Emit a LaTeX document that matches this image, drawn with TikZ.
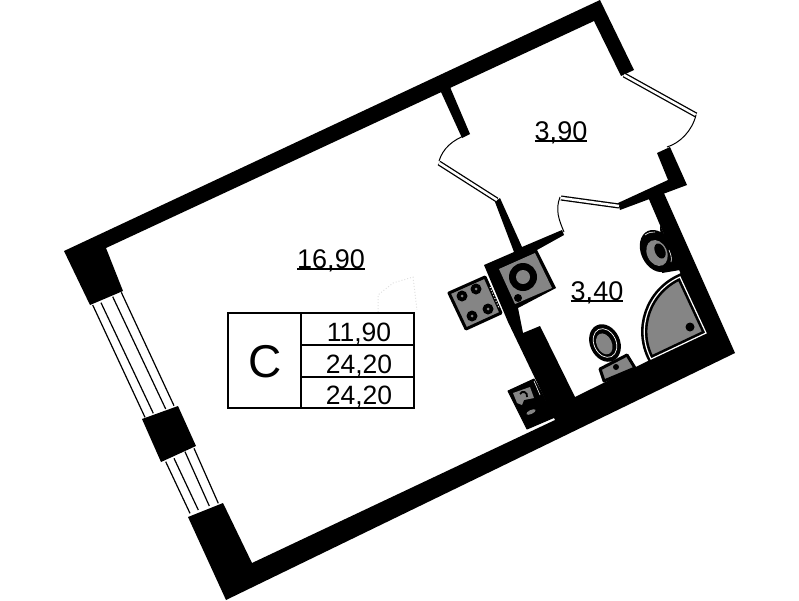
\documentclass[tikz,border=0pt]{standalone}
\usepackage{fontspec}
\setmainfont{Liberation Sans}
\newcommand{\arealabel}[1]{\setbox0\hbox{#1}\rlap{\rule[-1.8pt]{\wd0}{1.6pt}}\box0}
\begin{document}
\begin{tikzpicture}[x=1pt,y=-1pt,wall/.style={fill=black},
    doorleaf/.style={draw=black,line width=1.3pt,double=white,double distance=2.5pt},
    swing/.style={draw=black,line width=1pt},
    unit/.style={draw=black,line width=3pt,fill=black!48,line join=round},
    pane/.style={draw=black,line width=1.2pt},
    cell/.style={draw=black,line width=1.1pt}]
    \tikzstyle{area}=[anchor=base,inner sep=0pt,font=\fontsize{27}{30}\selectfont]
    \tikzstyle{value}=[anchor=base,inner sep=0pt,font=\fontsize{26.5}{30}\selectfont]

    \useasboundingbox (0,0) rectangle (799,600);

    % outer walls
    \fill[wall] (64,251) -- (600,0) -- (634,70) -- (621,76) -- (594,21) -- (106,248)
        -- (123,291) -- (90,305) -- cycle;
    \fill[wall] (142,419) -- (178,406) -- (196,446) -- (161,462) -- cycle;
    \fill[wall] (188,517) -- (223,503) -- (252,563) -- (555,420) -- (508,322) -- (484,265)
        -- (514,252) -- (495,202) -- (500,198) -- (522,247) -- (562,230) -- (564,235)
        -- (537,250) -- (556,288) -- (518,308) -- (523,333) -- (540,326)
        -- (575,397) -- (650,360) -- (707,333) -- (680,272) -- (648,197) -- (663,191)
        -- (735,353) -- (226,600) -- cycle;

    % partitions
    \fill[wall] (441,92) -- (450,87) -- (470,134) -- (462,138) -- cycle;
    \fill[wall] (657,153) -- (670,147) -- (687,185) -- (620,210) -- (618,203) -- (668,180) -- cycle;

    % windows
    \draw[pane] (92.7,305) -- (145,417.3);
    \draw[pane] (101,302.7) -- (153.3,413.3);
    \draw[pane] (112.7,296.7) -- (165.7,409);
    \draw[pane] (121.3,292.3) -- (174,405.7);
    \draw[pane] (165.7,461.7) -- (190,513.3);
    \draw[pane] (174,458.3) -- (198.3,510);
    \draw[pane] (185,451.7) -- (209.3,506);
    \draw[pane] (194,448.3) -- (218.3,503.3);

    % doors
    \draw[doorleaf] (624,75) -- (696,115);
    \draw[swing] (696,115) .. controls (692,131) and (680,143) .. (667,147);
    \draw[doorleaf] (439,163) -- (497,200);
    \draw[swing] (439,161) .. controls (443,148) and (453,140) .. (466,135);
    \draw[doorleaf] (561,198) -- (619,206);
    \draw[swing] (560,197) .. controls (555,210) and (559,220) .. (564,232);

    % kitchen
    \draw[unit] (449,293) -- (485,277) -- (501,313) -- (466,329) -- cycle;
    \foreach \bx/\by in {462/296,476/289,488/309,472/316}{
        \fill (\bx,\by) circle (5.5);
        \fill[black!48] (\bx,\by) circle (1.5);
    }
    \draw[white,dotted,line width=1pt] (490,287) -- (499,308);
    \fill[black!48] (499,269) -- (535,253) -- (552,288) -- (515,304) -- cycle;
    \fill (523,277) circle (14);
    \fill[black!48] (523,277) circle (7);
    \fill (518,298) circle (4);

    % sink
    \draw[unit,fill=black,line width=1pt] (508,391) -- (534,379) -- (555,417) -- (527,429) -- cycle;
    \fill[black!48] (513,393) -- (530,387) -- (534,398) -- (524,400) -- (522,405) -- (517,403) -- cycle;
    \draw[line width=1.8pt] (520,394) .. controls (522,390) and (528,392) .. (527,397);
    \draw[white,line width=.6pt] (534,381) -- (540,395);
    \fill[black!48,rotate around={25:(531,412)}] (531,412) ellipse [x radius=5,y radius=2];

    % bath
    \draw[fill=black!48,line width=2.6pt,double=white,double distance=1.2pt,line join=miter]
        (680,277) .. controls (648.5,291) and (635,328.5) .. (651,359) -- (706,333) -- cycle;
    \fill (690,327) circle (4.5);

    % basin
    \fill (660,225) -- (680,270) -- (662,273) -- cycle;
    \fill[rotate around={-65:(657,251)}] (657,251) ellipse [x radius=22,y radius=16];
    \draw[white,line width=.6pt] (669,250) .. controls (671,255) and (672,258) .. (671,262);
    \draw[white,line width=.6pt] (645,235) .. controls (649,232) and (652,232) .. (655,232);
    \fill[black!48,rotate around={-65:(657,253)}] (657,253) ellipse [x radius=13.5,y radius=10];
    \fill[rotate around={-65:(660,251)}] (660,251) ellipse [x radius=8,y radius=5];

    % toilet
    \fill[rotate around={-65:(605,343)}] (605,343) ellipse [x radius=19.5,y radius=15];
    \draw[white,line width=.7pt,rotate around={-65:(605,343)}] (605,343) ellipse [x radius=15,y radius=11];
    \fill[black!48,rotate around={-65:(605,343)}] (605.5,344) ellipse [x radius=11,y radius=7.5];
    \draw[unit] (600,369) -- (627,355) -- (635,368) -- (604,381) -- cycle;
    \fill (616,367) circle (3);

    % trace by the table
    \draw[black!12,dotted,line width=1pt] (378,312) -- (378,295) -- (393,283) -- (413,277) -- (417,310);

    % areas
    \node[area] (room) at (331,268) {\arealabel{16,90}};
    \node[area] (hall) at (561,140) {\arealabel{3,90}};
    \node[area] (bath) at (597,300) {\arealabel{3,40}};

    % table
    \draw[cell,fill=white] (228,313) rectangle (414,408);
    \draw[cell] (301,313) -- (301,408);
    \draw[cell] (301,345) -- (414,345);
    \draw[cell] (301,377) -- (414,377);
    \node[anchor=base,inner sep=0pt,font=\fontsize{46}{50}\selectfont] (type) at (265,377) {C};
    \node[value] (living) at (359,341.5) {11,90};
    \node[value] (total) at (359,373) {24,20};
    \node[value] (full) at (359,404) {24,20};
\end{tikzpicture}
\end{document}
